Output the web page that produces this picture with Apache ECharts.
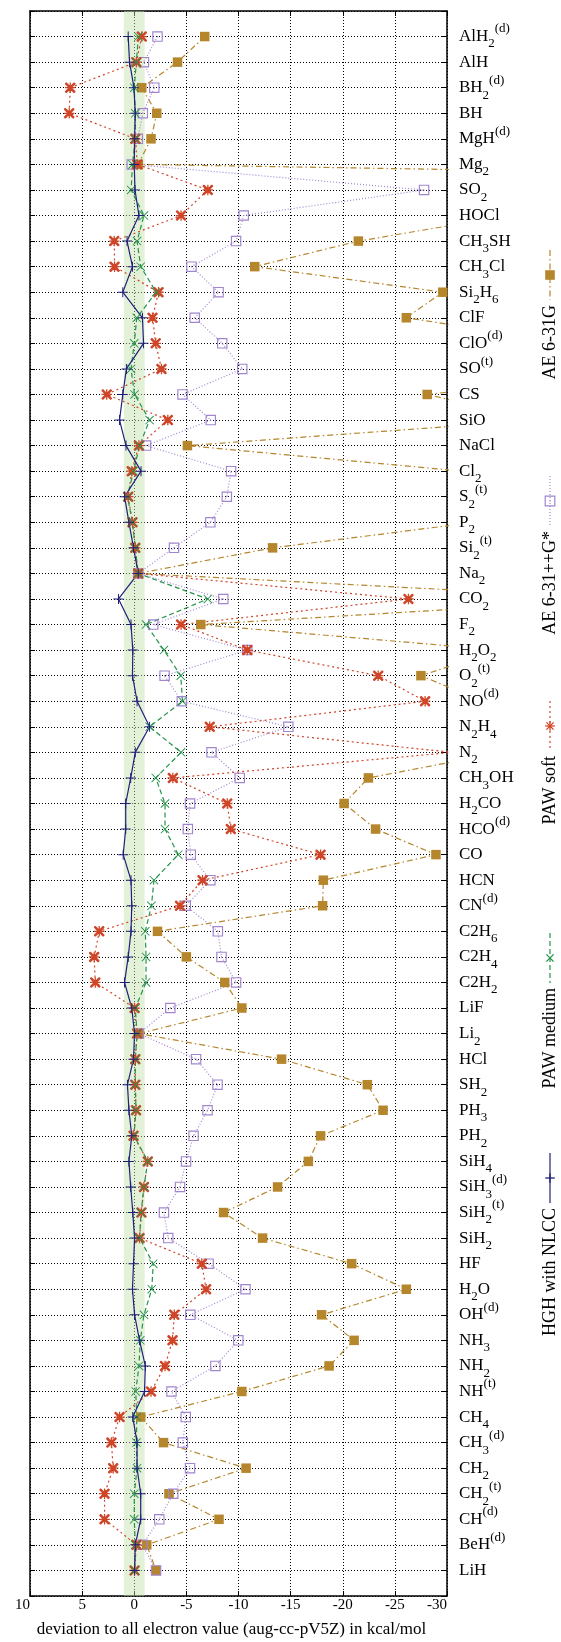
<!DOCTYPE html>
<html>
<head>
<meta charset="utf-8">
<script src="https://cdn.jsdelivr.net/npm/echarts@6/dist/echarts.min.js"></script>
<style>
  html, body { margin: 0; padding: 0; background: #fff; }
  #chart { width: 561px; height: 1642px; }
</style>
</head>
<body>
<div id="chart"></div>
<script>
// molecules, top to bottom (_x = subscript, ^(..) = superscript)
const molecules = [
  'AlH_2^(d)', 'AlH', 'BH_2^(d)', 'BH', 'MgH^(d)', 'Mg_2', 'SO_2', 'HOCl', 'CH_3SH', 'CH_3Cl',
  'Si_2H_6', 'ClF', 'ClO^(d)', 'SO^(t)', 'CS', 'SiO', 'NaCl', 'Cl_2', 'S_2^(t)', 'P_2',
  'Si_2^(t)', 'Na_2', 'CO_2', 'F_2', 'H_2O_2', 'O_2^(t)', 'NO^(d)', 'N_2H_4', 'N_2', 'CH_3OH',
  'H_2CO', 'HCO^(d)', 'CO', 'HCN', 'CN^(d)', 'C2H_6', 'C2H_4', 'C2H_2', 'LiF', 'Li_2',
  'HCl', 'SH_2', 'PH_3', 'PH_2', 'SiH_4', 'SiH_3^(d)', 'SiH_2^(t)', 'SiH_2', 'HF', 'H_2O',
  'OH^(d)', 'NH_3', 'NH_2', 'NH^(t)', 'CH_4', 'CH_3^(d)', 'CH_2', 'CH_2^(t)', 'CH^(d)', 'BeH^(d)',
  'LiH'
];

const xTicks = [10, 5, 0, -5, -10, -15, -20, -25, -30];

// deviations in kcal/mol, same order as molecules
const ae631g = [
  -6.76, -4.15, -0.72, -2.16, -1.61, -0.38, -150, -36, -21.5, -11.56,
  -29.6, -26.1, -42, -50, -28.1, -38.7, -5.1, -31.5, -35, -32.7,
  -13.27, -0.38, -47, -6.38, -35, -27.5, -33.4, -40, -35.3, -22.46,
  -20.13, -23.15, -28.94, -18.14, -18.07, -2.23, -5.0, -8.68, -10.32, -0.45,
  -14.13, -22.36, -23.87, -17.87, -16.7, -13.75, -8.57, -12.31, -20.85, -26.1,
  -17.97, -21.09, -18.69, -10.32, -0.62, -2.81, -10.73, -3.33, -8.13, -1.2,
  -2.09
];
const ae631ppg = [
  -2.23, -0.93, -1.92, -0.82, -0.34, 0.24, -27.8, -10.5, -9.77, -5.49,
  -8.09, -5.8, -8.44, -10.36, -4.63, -7.34, -1.13, -9.29, -8.88, -7.3,
  -3.81, -0.38, -8.54, -1.82, -10.84, -2.91, -4.56, -14.78, -7.41, -10.12,
  -5.35, -5.14, -5.42, -7.3, -4.94, -8.02, -8.37, -9.77, -3.46, -0.45,
  -5.93, -7.99, -7.03, -5.69, -4.97, -4.39, -2.85, -3.26, -7.13, -10.67,
  -5.38, -9.98, -7.78, -3.57, -4.94, -4.66, -5.35, -3.74, -2.4, -0.79,
  -2.09
];
const pawSoft = [
  -0.72, -0.2, 6.14, 6.24, -0.1, -0.3, -7.06, -4.49, 1.92, 1.89,
  -2.33, -1.75, -2.06, -2.61, 2.64, -3.22, -0.45, 0.24, 0.58, 0.17,
  -0.1, -0.38, -26.3, -4.49, -10.84, -23.4, -27.9, -7.24, -30.5, -3.7,
  -8.92, -9.26, -17.87, -6.55, -4.39, 3.36, 3.84, 3.74, -0.03, -0.27,
  -0.1, -0.1, -0.17, 0.07, -1.3, -0.93, -0.69, -0.51, -6.48, -6.89,
  -3.84, -3.67, -2.95, -1.61, 1.41, 2.19, 2.02, 2.85, 2.85, -0.21,
  -0.03
];
const pawMedium = [
  -0.4, -0.2, 0, -0.1, -0.1, 0.17, 0.3, -0.93, -0.27, -0.62,
  -2.1, -0.24, 0, 0.31, -0.03, -1.47, -0.51, 0.07, 0.65, 0.17,
  -0.1, -0.38, -7.06, -1.13, -2.85, -4.46, -4.63, -1.47, -4.49, -2.06,
  -2.95, -2.95, -4.22, -1.89, -1.65, -1.06, -1.13, -1.13, -0.1, -0.27,
  -0.1, -0.1, -0.17, 0.03, -1.3, -0.93, -0.65, -0.51, -1.82, -1.68,
  -0.93, -0.58, -0.45, -0.14, -0.24, -0.21, -0.27, 0, 0, -0.1,
  -0.03
];
const hghNlcc = [
  0.58, 0.45, 0.03, -0.1, -0.03, 0, -0.07, -0.45, 0.69, 0.17,
  1.1, -0.79, -0.89, 0.75, 1.1, 1.41, 0.79, -0.65, 0.93, 0.51,
  0.07, -0.38, 1.51, 0.31, 0.14, 0.17, -0.27, -1.47, -0.1, 0.34,
  0.82, 0.82, 1.06, 0.31, 0.24, 0.31, 0.58, 0.93, 0.24, -0.03,
  0.07, 0.65, 0.51, 0.24, 0.51, 0.34, 0.14, -0.03, 0.07, 0.17,
  -0.03, -0.51, -1.06, -0.99, 0.14, -0.27, -0.27, -0.62, -0.62, -0.1,
  -0.03
];

const FONT = '"Liberation Serif", "DejaVu Serif", serif';

// marker shapes
const P_PLUS = 'M9,0 H11 V9 H20 V11 H11 V20 H9 V11 H0 V9 H9 Z';
const P_CROSS = 'M0,1.4 L1.4,0 L20,18.6 L18.6,20 Z M18.6,0 L20,1.4 L1.4,20 L0,18.6 Z';
const P_STAR = 'M8.8,0 H11.2 V8.8 H20 V11.2 H11.2 V20 H8.8 V11.2 H0 V8.8 H8.8 Z ' +
  'M1.7,0 L3.4,0 L20,16.6 L20,18.3 L18.3,20 L16.6,20 L0,3.4 L0,1.7 Z ' +
  'M16.6,0 L18.3,0 L20,1.7 L20,3.4 L3.4,20 L1.7,20 L0,18.3 L0,16.6 Z';
const P_BOXDOT = 'M0,0 H20 V20 H0 Z M2.2,2.2 V17.8 H17.8 V2.2 Z M9,9 H11 V11 H9 Z';
const P_SQUARE = 'M0,0 H20 V20 H0 Z';

const series = [
  { name: 'AE 6-31G', data: ae631g, color: '#b5862c', dash: [6, 3, 1.5, 3], path: P_SQUARE, size: 9.5, key: 'square' },
  { name: 'AE 6-31++G*', data: ae631ppg, color: '#a285cf', dash: [1, 2], path: P_BOXDOT, size: 10.5, key: 'box' },
  { name: 'PAW soft', data: pawSoft, color: '#cf4528', dash: [2, 3], path: P_STAR, size: 10.5, key: 'star' },
  { name: 'PAW medium', data: pawMedium, color: '#23944a', dash: [5, 3], path: P_CROSS, size: 9, key: 'cross' },
  { name: 'HGH with NLCC', data: hghNlcc, color: '#1f2177', dash: 'solid', path: P_PLUS, size: 10, key: 'plus' }
];

// vertical key: centre of each sample, pixels
const keyY = [275, 501, 726, 958, 1178];

function toRich(s) {
  let out = '', buf = '', i = 0;
  const flush = () => { if (buf) { out += '{n|' + buf + '}'; buf = ''; } };
  while (i < s.length) {
    const c = s[i];
    if (c === '_') { flush(); out += '{s|' + s[i + 1] + '}'; i += 2; }
    else if (c === '^') { flush(); const j = s.indexOf(')', i); out += '{p|' + s.slice(i + 1, j + 1) + '}'; i = j + 1; }
    else { buf += c; i++; }
  }
  flush();
  return out;
}

function seg(x1, y1, x2, y2, color, w) {
  return { type: 'line', shape: { x1, y1, x2, y2 }, style: { stroke: color, lineWidth: w } };
}

function keyMarker(kind, cx, cy, color) {
  const r = 4.8;
  const d = r * 0.75;
  if (kind === 'square') {
    return [{ type: 'rect', shape: { x: cx - r, y: cy - r, width: 2 * r, height: 2 * r }, style: { fill: color } }];
  }
  if (kind === 'box') {
    return [
      { type: 'rect', shape: { x: cx - r, y: cy - r, width: 2 * r, height: 2 * r }, style: { fill: 'none', stroke: color, lineWidth: 1.2 } },
      { type: 'rect', shape: { x: cx - 0.6, y: cy - 0.6, width: 1.2, height: 1.2 }, style: { fill: color } }
    ];
  }
  const out = [];
  if (kind === 'plus' || kind === 'star') {
    out.push(seg(cx - r, cy, cx + r, cy, color, 1.3), seg(cx, cy - r, cx, cy + r, color, 1.3));
  }
  if (kind === 'cross' || kind === 'star') {
    out.push(seg(cx - d, cy - d, cx + d, cy + d, color, 1.3), seg(cx - d, cy + d, cx + d, cy - d, color, 1.3));
  }
  return out;
}

const chart = echarts.init(document.getElementById('chart'));

const legendGraphics = [];
series.forEach((s, k) => {
  const cy = keyY[k];
  legendGraphics.push({
    type: 'line', shape: { x1: 550, y1: cy - 25, x2: 550, y2: cy + 25 },
    style: { stroke: s.color, lineWidth: 1.2, lineDash: s.dash === 'solid' ? null : s.dash }
  });
  keyMarker(s.key, 550, cy, s.color).forEach(g => legendGraphics.push(g));
  legendGraphics.push({
    type: 'text', x: 550, y: cy + 30, rotation: Math.PI / 2,
    style: {
      text: s.name, fill: '#000', fontSize: 18, fontFamily: FONT,
      align: 'right', verticalAlign: 'middle'
    }
  });
});

const gridLine = { show: true, lineStyle: { color: '#000', width: 1, type: [1, 2] } };
const frame = { show: true, onZero: false, lineStyle: { color: '#000', width: 1.5 } };
const tickIn = { show: true, inside: true, length: 5, lineStyle: { color: '#000', width: 1 } };

chart.setOption({
  animation: false,
  backgroundColor: '#fff',
  grid: { left: 30, right: 114, top: 11, bottom: 46, outerBoundsMode: 'none' },
  xAxis: [
    {
      type: 'value', min: -30, max: 10, interval: 5, inverse: true, position: 'bottom',
      axisLine: frame, axisTick: tickIn, splitLine: gridLine,
      axisLabel: {
        color: '#000', fontSize: 15, fontFamily: FONT, margin: 2,
        alignMinLabel: 'right', alignMaxLabel: 'right',
        formatter: v => (xTicks.indexOf(v) >= 0 ? String(v) : '')
      },
      name: 'deviation to all electron value (aug-cc-pV5Z) in kcal/mol',
      nameLocation: 'middle', nameGap: 25,
      nameTextStyle: { color: '#000', fontSize: 17, fontFamily: FONT, padding: [0, 14, 0, 0] }
    },
    {
      type: 'value', min: -30, max: 10, interval: 5, inverse: true, position: 'top',
      axisLine: frame, axisTick: tickIn, splitLine: { show: false }, axisLabel: { show: false }
    }
  ],
  yAxis: [
    {
      type: 'value', min: 0, max: molecules.length + 1, interval: 1, inverse: true, position: 'right',
      axisLine: frame, axisTick: tickIn, splitLine: gridLine,
      axisLabel: {
        margin: 12, color: '#000',
        formatter: v => (v >= 1 && v <= molecules.length ? toRich(molecules[v - 1]) : ''),
        rich: {
          n: { fontFamily: FONT, fontSize: 17, lineHeight: 28, color: '#000' },
          s: { fontFamily: FONT, fontSize: 13, lineHeight: 15, verticalAlign: 'bottom', color: '#000' },
          p: { fontFamily: FONT, fontSize: 13, lineHeight: 14, verticalAlign: 'top', color: '#000' }
        }
      }
    },
    {
      type: 'value', min: 0, max: molecules.length + 1, interval: 1, inverse: true, position: 'left',
      axisLine: frame, axisTick: tickIn, splitLine: { show: false }, axisLabel: { show: false }
    }
  ],
  graphic: legendGraphics,
  series: series.map((s, k) => ({
    name: s.name,
    type: 'line',
    xAxisIndex: 0,
    yAxisIndex: 0,
    clip: true,
    symbol: 'path://' + s.path,
    symbolSize: s.size,
    showAllSymbol: true,
    lineStyle: { color: s.color, width: 1.2, type: s.dash },
    itemStyle: { color: s.color },
    data: s.data.map((v, i) => [v, i + 1]),
    markArea: k === 0 ? {
      silent: true,
      itemStyle: { color: 'rgba(196,224,170,0.45)' },
      data: [[{ xAxis: 1 }, { xAxis: -1 }]]
    } : undefined
  }))
});
</script>
</body>
</html>
